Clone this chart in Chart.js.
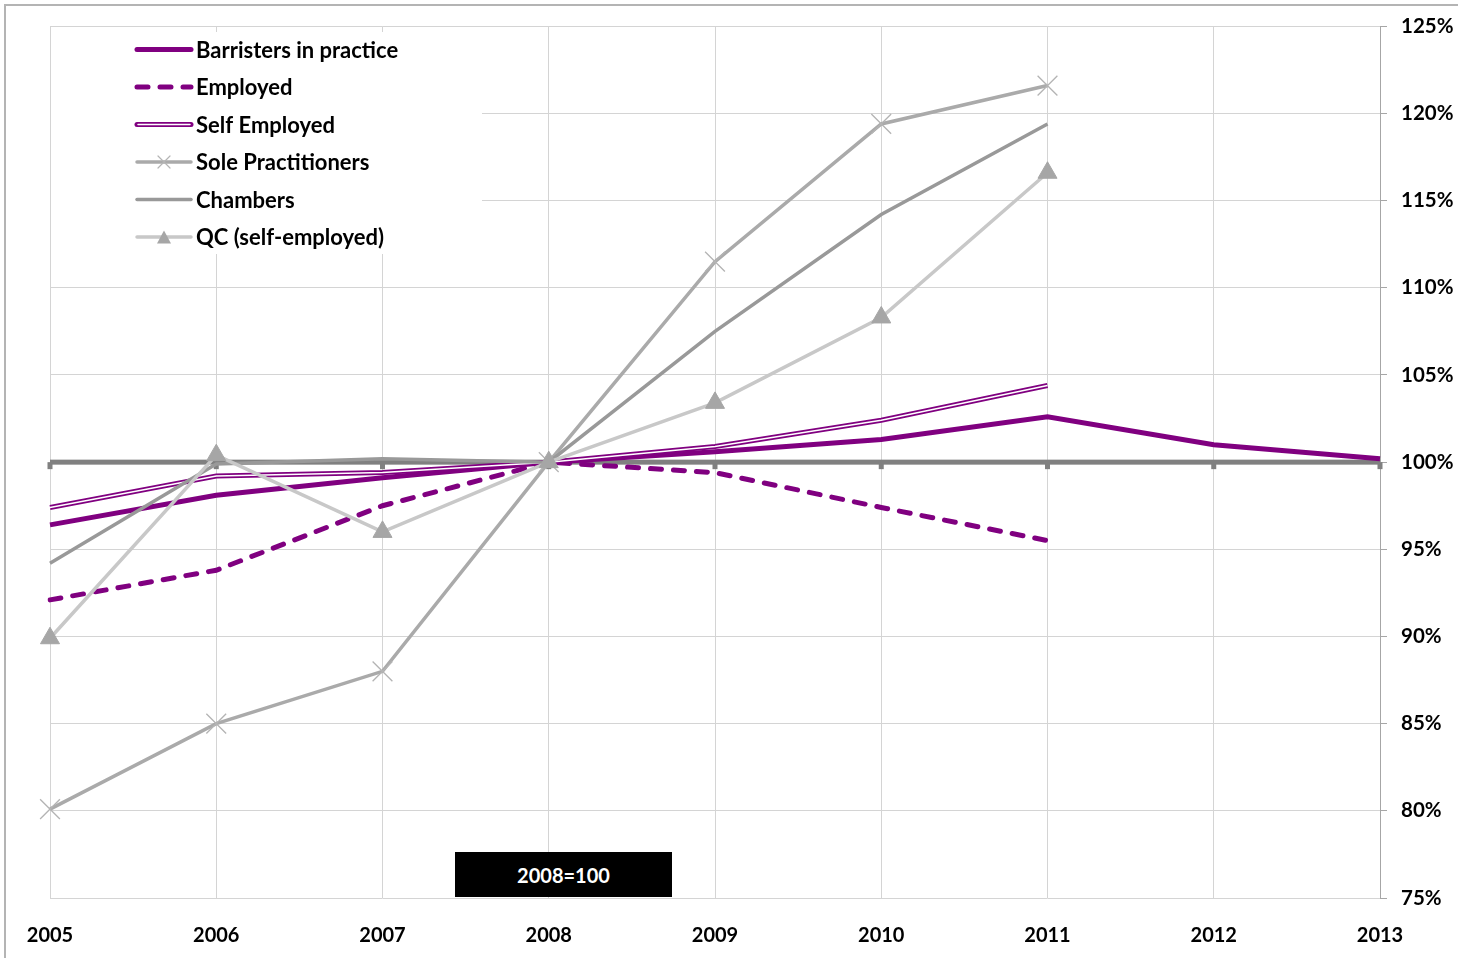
<!DOCTYPE html>
<html>
<head>
<meta charset="utf-8">
<title>Barristers index, 2008=100</title>
<script src="https://cdn.jsdelivr.net/npm/chart.js@4.4.1/dist/chart.umd.min.js"></script>
<style>
  html, body { margin: 0; padding: 0; background: #fff; }
  #wrap { position: relative; width: 1458px; height: 958px; overflow: hidden; }
  #frame {
    position: absolute; left: 4px; top: 4px; right: -10px; bottom: -10px;
    border-top: 2px solid #b4b4b4; border-left: 2px solid #b4b4b4;
  }
  #chart { position: absolute; left: 0; top: 0; }
  #base-note {
    position: absolute; left: 455px; top: 852px; width: 217px; height: 45px;
    background: #000; color: #fff; font: bold 20px Lato, sans-serif;
    display: flex; align-items: center; justify-content: center;
  }
</style>
</head>
<body>
<div id="wrap">
  <div id="frame"></div>
  <canvas id="chart" width="1458" height="958"></canvas>
  <div id="base-note">2008=100</div>
</div>
<script>
// index values, 2008 = 100
const years = ["2005", "2006", "2007", "2008", "2009", "2010", "2011", "2012", "2013"];
const barristers = [96.4, 98.1, 99.1, 100, 100.6, 101.3, 102.6, 101.0, 100.2];
const employed = [92.1, 93.8, 97.5, 100, 99.4, 97.4, 95.5];
const selfEmployed = [97.4, 99.2, 99.4, 100, 100.9, 102.4, 104.4];
const solePractitioners = [80.1, 85.0, 88.0, 100, 111.5, 119.4, 121.6];
const chambers = [94.2, 99.9, 100.2, 100, 107.5, 114.2, 119.4];
const qcSelfEmployed = [89.9, 100.4, 96.0, 100, 103.4, 108.3, 116.6];
const seriesNames = ["Barristers in practice", "Employed", "Self Employed", "Sole Practitioners", "Chambers", "QC (self-employed)"];
const baseIndex = 100;
const yMin = 75, yMax = 125, yStep = 5;

const PURPLE = "#800080";
const FONT = "Lato, sans-serif";

// thick category axis crossing at 100%
const baselinePlugin = {
    id: "baseline",
    beforeDatasetsDraw(chart) {
        const { ctx, chartArea, scales: { x, y } } = chart;
        const py = y.getPixelForValue(baseIndex);
        ctx.save();
        ctx.fillStyle = "#808080";
        ctx.fillRect(chartArea.left, py - 2.5, chartArea.right - chartArea.left, 5);
        years.forEach((_, i) => {
            const px = x.getPixelForValue(i);
            ctx.fillRect(px - 2.5, py, 5, 7);
        });
        ctx.restore();
    },
};

function drawCross(ctx, cx, cy, r) {
    ctx.beginPath();
    ctx.moveTo(cx - r, cy - r); ctx.lineTo(cx + r, cy + r);
    ctx.moveTo(cx - r, cy + r); ctx.lineTo(cx + r, cy - r);
    ctx.stroke();
}

function drawTriangle(ctx, cx, cy, w, h) {
    ctx.beginPath();
    ctx.moveTo(cx, cy - h / 2);
    ctx.lineTo(cx + w / 2, cy + h / 2);
    ctx.lineTo(cx - w / 2, cy + h / 2);
    ctx.closePath();
    ctx.fill();
}

// legend panel in the top-left corner of the plot
const legendPanel = {
    id: "legendPanel",
    beforeDatasetsDraw(chart) {
        const { ctx } = chart;
        ctx.save();
        ctx.fillStyle = "#fff";
        ctx.fillRect(51, 32, 431, 222);

        const x0 = 137, x1 = 191, xm = (x0 + x1) / 2;
        const rows = [49.5, 87, 124.5, 162, 199.5, 237];
        const line = (y, color, width, dash) => {
            ctx.beginPath();
            ctx.setLineDash(dash || []);
            ctx.lineCap = "round";
            ctx.strokeStyle = color;
            ctx.lineWidth = width;
            ctx.moveTo(x0, y);
            ctx.lineTo(x1, y);
            ctx.stroke();
            ctx.setLineDash([]);
        };

        line(rows[0], PURPLE, 5);
        line(rows[1], PURPLE, 5, [11, 12]);
        line(rows[2], PURPLE, 5);
        ctx.beginPath();
        ctx.strokeStyle = "#fff";
        ctx.lineWidth = 1.5;
        ctx.moveTo(x0 + 1, rows[2]);
        ctx.lineTo(x1 - 1, rows[2]);
        ctx.stroke();
        line(rows[3], "#aaaaaa", 3.5);
        ctx.strokeStyle = "#b4b4b4";
        ctx.lineWidth = 1.2;
        drawCross(ctx, xm, rows[3], 6);
        line(rows[4], "#999999", 3.5);
        line(rows[5], "#c8c8c8", 3.5);
        ctx.fillStyle = "#a6a6a6";
        drawTriangle(ctx, xm, rows[5], 14, 13);

        ctx.fillStyle = "#000";
        ctx.font = "bold 22px " + FONT;
        ctx.textBaseline = "middle";
        ctx.textAlign = "left";
        seriesNames.forEach((name, i) => ctx.fillText(name, 196, rows[i] + 1));
        ctx.restore();
    },
};

function lineSet(label, data, color, width, order, extra) {
    return Object.assign({
        label,
        data,
        borderColor: color,
        backgroundColor: color,
        borderWidth: width,
        tension: 0,
        fill: false,
        pointRadius: 0,
        spanGaps: false,
        order,
    }, extra || {});
}

function build() {
    new Chart(document.getElementById("chart"), {
        type: "line",
        data: {
            labels: years,
            datasets: [
                lineSet(seriesNames[0], barristers, PURPLE, 5, 7),
                lineSet(seriesNames[1], employed, PURPLE, 5, 6, { borderDash: [11, 12], borderCapStyle: "round" }),
                lineSet(seriesNames[2], selfEmployed, PURPLE, 5, 5),
                lineSet(seriesNames[2] + " (inner)", selfEmployed, "#ffffff", 1.5, 4),
                lineSet(seriesNames[3], solePractitioners, "#aaaaaa", 3.5, 3, {
                    pointStyle: "crossRot", pointRadius: 14, pointBorderColor: "#b4b4b4",
                    pointBorderWidth: 1.3, pointBackgroundColor: "#b4b4b4",
                }),
                lineSet(seriesNames[4], chambers, "#999999", 3.5, 2),
                lineSet(seriesNames[5], qcSelfEmployed, "#c8c8c8", 3.5, 1, {
                    pointStyle: "triangle", pointRadius: 11, pointBorderColor: "#a6a6a6",
                    pointBorderWidth: 1, pointBackgroundColor: "#a6a6a6",
                }),
            ],
        },
        options: {
            responsive: false,
            animation: false,
            events: [],
            layout: { padding: { left: 50, top: 26, right: 0, bottom: 0 } },
            scales: {
                x: {
                    type: "category",
                    offset: false,
                    grid: { color: "#d4d4d4", lineWidth: 1, drawTicks: false },
                    border: { display: false },
                    ticks: {
                        color: "#000", padding: 26, maxRotation: 0, autoSkip: false,
                        font: { family: FONT, weight: "bold", size: 20 },
                    },
                    afterFit: (s) => { s.height = 60; },
                },
                y: {
                    position: "right",
                    min: yMin,
                    max: yMax,
                    grid: { color: "#d4d4d4", tickColor: "#a6a6a6", tickLength: 7 },
                    border: { color: "#a6a6a6", width: 1 },
                    ticks: {
                        stepSize: yStep, color: "#000", padding: 14,
                        font: { family: FONT, weight: "bold", size: 20.5 },
                        callback: (v) => v + "%",
                    },
                    afterFit: (s) => { s.width = 78; },
                },
            },
            plugins: {
                legend: { display: false },
                tooltip: { enabled: false },
            },
        },
        plugins: [baselinePlugin, legendPanel],
    });
}

document.fonts.load("bold 20px Lato").then(build, build);
</script>
</body>
</html>
